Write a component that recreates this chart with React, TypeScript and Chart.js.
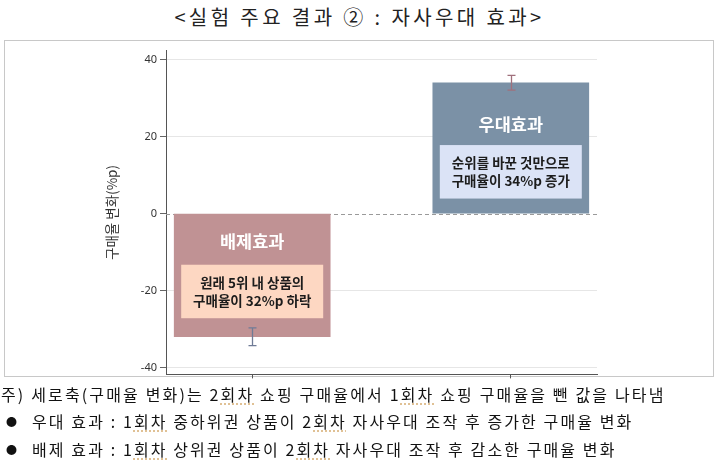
import React, { useEffect, useRef } from "react";
import { Chart, registerables } from "chart.js";

Chart.register(...registerables);

// ---- data ----
const categories: string[] = ["배제효과", "우대효과"];
const values: number[] = [-32, 34];
const errors: number[] = [2.3, 1.9];
const descLines: string[][] = [
  ["원래 5위 내 상품의", "구매율이 32%p 하락"],
  ["순위를 바꾼 것만으로", "구매율이 34%p 증가"],
];
const yTickValues: number[] = [-40, -20, 0, 20, 40];
const yAxisTitle = "구매율 변화(%p)";
const chartTitle = "<실험 주요 결과 ② : 자사우대 효과>";

// ---- annotation layout (data units) ----
const titleY: number[] = [-7.3, 23.2];
const boxTop: number[] = [-13.3, 17.8];
const boxBottom: number[] = [-27.2, 3.9];

// ---- styles ----
const barColors = ["#c09294", "#7b91a6"];
const boxColors = ["#fdd7c2", "#dbe3f6"];
const errColors = ["#6f7b96", "#a0707c"];
const KFONT = '"Noto Sans CJK KR", "Noto Sans", sans-serif';

const zeroLinePlugin = {
  id: "zeroLine",
  beforeDatasetsDraw(chart: any) {
    const { ctx, chartArea, scales } = chart;
    const y0 = Math.round(scales.y.getPixelForValue(0)) + 0.5;
    ctx.save();
    ctx.strokeStyle = "#9a9a9a";
    ctx.lineWidth = 1;
    ctx.setLineDash([4, 3]);
    ctx.beginPath();
    ctx.moveTo(chartArea.left, y0);
    ctx.lineTo(chartArea.right, y0);
    ctx.stroke();
    ctx.restore();
  },
};

const annotPlugin = {
  id: "annot",
  afterDatasetsDraw(chart: any) {
    const { ctx, scales } = chart;
    const y = scales.y;
    const meta = chart.getDatasetMeta(0);
    meta.data.forEach((bar: any, i: number) => {
      const cx = bar.x;
      const w = bar.width;
      ctx.save();
      // title
      ctx.fillStyle = "#ffffff";
      ctx.font = `bold 17.5px ${KFONT}`;
      ctx.textAlign = "center";
      ctx.textBaseline = "middle";
      ctx.fillText(categories[i], cx, y.getPixelForValue(titleY[i]));
      // inner box
      const t = y.getPixelForValue(boxTop[i]);
      const b = y.getPixelForValue(boxBottom[i]);
      ctx.fillStyle = boxColors[i];
      ctx.fillRect(cx - w / 2 + 7, t, w - 14, b - t);
      // description
      ctx.fillStyle = "#1c1c1c";
      ctx.font = `bold 13.5px ${KFONT}`;
      const mid = (t + b) / 2;
      const lh = 18;
      descLines[i].forEach((line, k) => {
        ctx.fillText(line, cx, mid + (k - (descLines[i].length - 1) / 2) * lh);
      });
      // error bar
      const e1 = y.getPixelForValue(values[i] + errors[i]);
      const e2 = y.getPixelForValue(values[i] - errors[i]);
      const ex = Math.round(cx) + 0.5;
      ctx.strokeStyle = errColors[i];
      ctx.lineWidth = 1.3;
      ctx.beginPath();
      ctx.moveTo(ex, e1);
      ctx.lineTo(ex, e2);
      ctx.moveTo(ex - 4, e1);
      ctx.lineTo(ex + 4, e1);
      ctx.moveTo(ex - 4, e2);
      ctx.lineTo(ex + 4, e2);
      ctx.stroke();
      ctx.restore();
    });
  },
};

function BarChart() {
  const ref = useRef<HTMLCanvasElement>(null);
  useEffect(() => {
    if (!ref.current) return;
    const chart = new Chart(ref.current, {
      type: "bar",
      data: {
        datasets: [
          {
            data: categories.map((c, i) => ({ x: i, y: values[i] })) as any,
            backgroundColor: barColors,
            borderWidth: 0,
            barThickness: 156,
          },
        ],
      },
      options: {
        animation: false,
        responsive: false,
        layout: { padding: { left: 95, right: 116, top: 9, bottom: 0 } },
        plugins: { legend: { display: false }, tooltip: { enabled: false } },
        scales: {
          x: {
            type: "linear",
            offset: false,
            min: -1 / 3,
            max: 4 / 3,
            afterBuildTicks: (s: any) => {
              s.ticks = categories.map((_, i) => ({ value: i }));
            },
            afterFit: (s: any) => {
              s.height = 4;
            },
            ticks: { display: false },
            grid: {
              offset: false,
              drawOnChartArea: false,
              drawTicks: true,
              tickLength: 4,
              tickColor: "#555",
              color: "rgba(0,0,0,0)",
            },
            border: { display: true, color: "#555", width: 1 },
          },
          y: {
            min: -41.8,
            max: 42.35,
            afterBuildTicks: (s: any) => {
              s.ticks = yTickValues.map((v) => ({ value: v }));
            },
            afterFit: (s: any) => {
              s.width = 66;
            },
            ticks: {
              color: "#333",
              padding: 3,
              font: { family: '"Noto Sans", sans-serif', size: 11 },
              callback: (v: any) => String(v),
            },
            grid: {
              color: (c: any) => (c.tick && c.tick.value === 0 ? "rgba(0,0,0,0)" : "#e6e6e6"),
              tickColor: "#666",
              tickLength: 6,
            },
            border: { display: true, color: "#555", width: 1 },
            title: {
              display: true,
              text: yAxisTitle,
              color: "#333",
              font: { family: KFONT, size: 13.5 },
            },
          },
        },
      },
      plugins: [zeroLinePlugin, annotPlugin],
    });
    return () => chart.destroy();
  }, []);
  return <canvas ref={ref} width={708} height={343} style={{ display: "block" }} />;
}

const U = ({ children }: { children: React.ReactNode }) => (
  <span style={{ textDecoration: "underline dotted #d9b27c", textUnderlineOffset: "3px" }}>{children}</span>
);

const Bullet = () => <span style={{ fontSize: 11, position: "relative", top: -2, letterSpacing: 0 }}>●</span>;

export default function App() {
  const noteStyle: React.CSSProperties = {
    position: "absolute",
    left: 0,
    fontFamily: KFONT,
    fontSize: 16,
    color: "#111",
    whiteSpace: "nowrap",
    lineHeight: "20px",
    letterSpacing: "2.1px",
  };
  return (
    <div
      style={{
        position: "fixed",
        left: 0,
        top: 0,
        width: 719,
        height: 471,
        background: "#fff",
        overflow: "hidden",
      }}
    >
      <div
        style={{
          position: "absolute",
          left: 0,
          width: 719,
          top: 5,
          textAlign: "center",
          fontFamily: KFONT,
          fontSize: 20,
          lineHeight: "24px",
          color: "#222",
          letterSpacing: "3.4px",
          whiteSpace: "nowrap",
        }}
      >
        {chartTitle}
      </div>
      <div
        style={{
          position: "absolute",
          left: 4,
          top: 40,
          width: 708,
          height: 335,
          border: "1px solid #c8c8c8",
        }}
      />
      <div style={{ position: "absolute", left: 5, top: 41 }}>
        <BarChart />
      </div>
      <div style={{ ...noteStyle, top: 384, left: 1, letterSpacing: "2.15px" }}>
        주) 세로축(구매율 변화)는 2<U>회차</U> 쇼핑 구매율에서 1<U>회차</U> 쇼핑 구매율을 뺀 값을 나타냄
      </div>
      <div style={{ ...noteStyle, top: 411, left: 6 }}>
        <Bullet />
        <span style={{ marginLeft: 15 }}>우대 효과 : 1<U>회차</U> 중하위권 상품이 2<U>회차</U> 자사우대 조작 후 증가한 구매율 변화</span>
      </div>
      <div style={{ ...noteStyle, top: 439, left: 6 }}>
        <Bullet />
        <span style={{ marginLeft: 15 }}>배제 효과 : 1<U>회차</U> 상위권 상품이 2<U>회차</U> 자사우대 조작 후 감소한 구매율 변화</span>
      </div>
    </div>
  );
}
